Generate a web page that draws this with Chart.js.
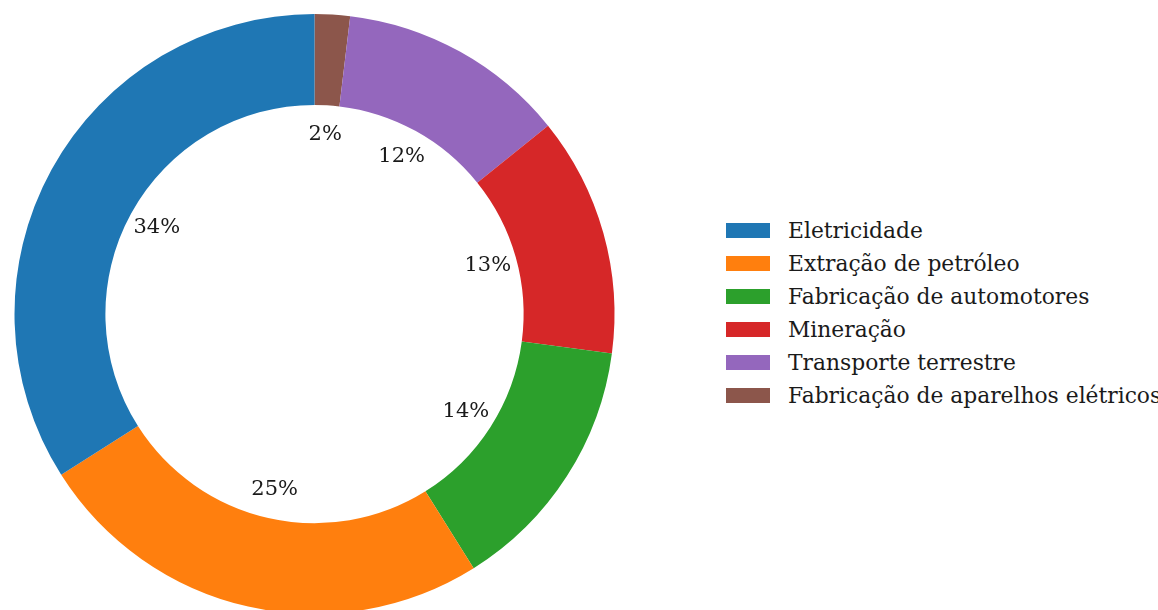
<!DOCTYPE html>
<html>
<head>
<meta charset="utf-8">
<script src="https://cdn.jsdelivr.net/npm/chart.js@4"></script>
<style>
    html, body { margin: 0; padding: 0; background: #fff; }
    #wrap { position: relative; width: 1158px; height: 610px; overflow: hidden; }
    #pieBox { position: absolute; left: 0; top: 0; width: 630px; height: 640px; }
    #legend { position: absolute; left: 726px; top: 214px; white-space: nowrap;
              font-family: "DejaVu Serif", serif; font-size: 21.8px; color: #1a1a1a; }
    .row { display: flex; align-items: center; height: 33px; }
    .sw { width: 44px; height: 15px; margin-right: 18px; flex: none; }
</style>
</head>
<body>
<div id="wrap">
    <div id="pieBox"><canvas id="donut"></canvas></div>
    <div id="legend"></div>
</div>
<script>
// ข้อมูลของกราฟ (ลำดับตาม legend)
const categories = [
    'Eletricidade',
    'Extração de petróleo',
    'Fabricação de automotores',
    'Mineração',
    'Transporte terrestre',
    'Fabricação de aparelhos elétricos'
];
const shares = [34.0, 24.9, 14.0, 12.9, 12.3, 1.9];
const colors = ['#1f77b4', '#ff7f0e', '#2ca02c', '#d62728', '#9467bd', '#8c564b'];

// matplotlib วาดทวนเข็ม -> กลับลำดับให้ Chart.js (ตามเข็ม) ได้ภาพเดียวกัน
const revLabels = categories.slice().reverse();
const revValues = shares.slice().reverse();
const revColors = colors.slice().reverse();

// plugin สำหรับเขียนเปอร์เซ็นต์ที่ 0.6 ของรัศมี
const pctLabels = {
    id: 'pctLabels',
    afterDatasetsDraw(chart) {
        const ctx = chart.ctx;
        const meta = chart.getDatasetMeta(0);
        const data = chart.data.datasets[0].data;
        const total = data.reduce((a, b) => a + b, 0);
        ctx.save();
        ctx.font = '21px "DejaVu Serif"';
        ctx.fillStyle = '#1a1a1a';
        ctx.textAlign = 'center';
        ctx.textBaseline = 'middle';
        meta.data.forEach((arc, i) => {
            const p = arc.getProps(['x', 'y', 'startAngle', 'endAngle', 'outerRadius'], true);
            const mid = (p.startAngle + p.endAngle) / 2;
            const r = p.outerRadius * 0.6;
            const txt = Math.round(data[i] / total * 100) + '%';
            ctx.fillText(txt, p.x + Math.cos(mid) * r, p.y + Math.sin(mid) * r);
        });
        ctx.restore();
    }
};

const ctx = document.getElementById('donut').getContext('2d');
const myChart = new Chart(ctx, {
    type: 'doughnut',
    data: {
        labels: revLabels,
        datasets: [{
            data: revValues,
            backgroundColor: revColors,
            borderWidth: 0,
            hoverOffset: 0
        }]
    },
    options: {
        responsive: true,
        maintainAspectRatio: false,
        animation: false,
        cutout: '69.7%',
        rotation: 0,
        layout: { padding: { left: 14, right: 15, top: 14, bottom: 26 } },
        plugins: {
            legend: { display: false },
            tooltip: { enabled: false }
        }
    },
    plugins: [pctLabels]
});

// legend แบบ HTML
const legendEl = document.getElementById('legend');
categories.forEach((name, i) => {
    const row = document.createElement('div');
    row.className = 'row';
    row.innerHTML = '<span class="sw" style="background:' + colors[i] + '"></span><span>' + name + '</span>';
    legendEl.appendChild(row);
});
</script>
</body>
</html>
